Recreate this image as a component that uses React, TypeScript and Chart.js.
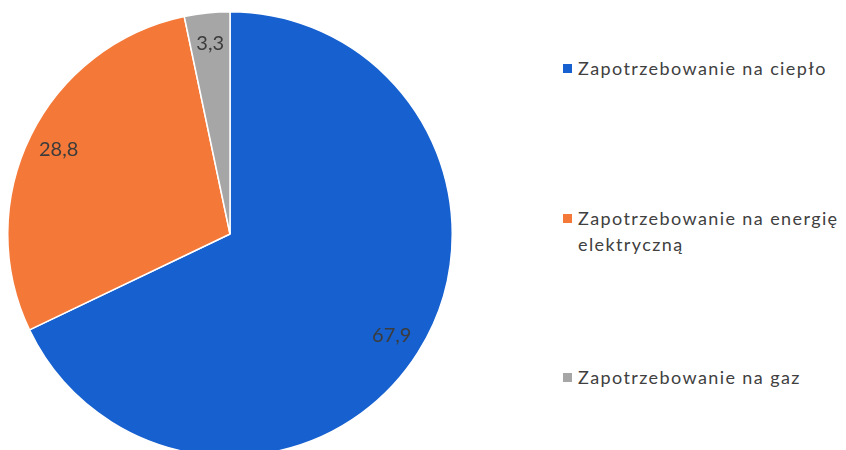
import React, { useEffect, useRef } from "react";
import { Chart, registerables } from "chart.js";

Chart.register(...registerables);

const categories = [
  "Zapotrzebowanie na ciepło",
  "Zapotrzebowanie na energię elektryczną",
  "Zapotrzebowanie na gaz",
];
const legendLines = [
  ["Zapotrzebowanie na ciepło"],
  ["Zapotrzebowanie na energię", "elektryczną"],
  ["Zapotrzebowanie na gaz"],
];
const values = [67.9, 28.8, 3.3];
const valueLabels = ["67,9", "28,8", "3,3"];
const colors = ["#1660CF", "#F47939", "#A6A6A6"];

const FONT = "Lato, 'Open Sans', sans-serif";

const labelPlugin = {
  id: "sliceLabels",
  afterDatasetsDraw(chart: any) {
    const { ctx } = chart;
    const meta = chart.getDatasetMeta(0);
    ctx.save();
    ctx.font = `20px ${FONT}`;
    ctx.fillStyle = "#3c3c3c";
    ctx.textAlign = "center";
    ctx.textBaseline = "middle";
    meta.data.forEach((arc: any, i: number) => {
      const mid = (arc.startAngle + arc.endAngle) / 2;
      const r = arc.outerRadius * 0.86;
      ctx.fillText(valueLabels[i], arc.x + Math.cos(mid) * r, arc.y + Math.sin(mid) * r);
    });
    ctx.restore();
  },
};

export default function App() {
  const ref = useRef<HTMLCanvasElement>(null);
  useEffect(() => {
    document.body.style.margin = "0";
    const chart = new Chart(ref.current!, {
      type: "pie",
      data: {
        labels: categories,
        datasets: [
          {
            data: values,
            backgroundColor: colors,
            borderColor: "#ffffff",
            borderWidth: 1.5,
          },
        ],
      },
      options: {
        animation: false,
        responsive: false,
        maintainAspectRatio: false,
        plugins: { legend: { display: false }, tooltip: { enabled: false } },
        layout: { padding: 0 },
      },
      plugins: [labelPlugin],
    });
    return () => chart.destroy();
  }, []);

  const legendTops = [55, 205, 364];
  return (
    <div style={{ position: "relative", width: 846, height: 450, overflow: "hidden", background: "#fff" }}>
      <div style={{ position: "absolute", left: 7, top: 11, width: 446, height: 446 }}>
        <canvas ref={ref} width={446} height={446} style={{ width: 446, height: 446 }} />
      </div>
      {legendLines.map((lines, i) => (
        <div
          key={i}
          style={{
            position: "absolute",
            left: 563,
            top: legendTops[i],
            fontFamily: FONT,
            fontSize: 18,
            lineHeight: "26px",
            color: "#404040",
            letterSpacing: "1.4px",
            whiteSpace: "nowrap",
          }}
        >
          <span
            style={{
              position: "absolute",
              left: 0,
              top: 9,
              width: 9,
              height: 9,
              background: colors[i],
            }}
          />
          <div style={{ marginLeft: 15 }}>
            {lines.map((l, j) => (
              <div key={j}>{l}</div>
            ))}
          </div>
        </div>
      ))}
    </div>
  );
}
